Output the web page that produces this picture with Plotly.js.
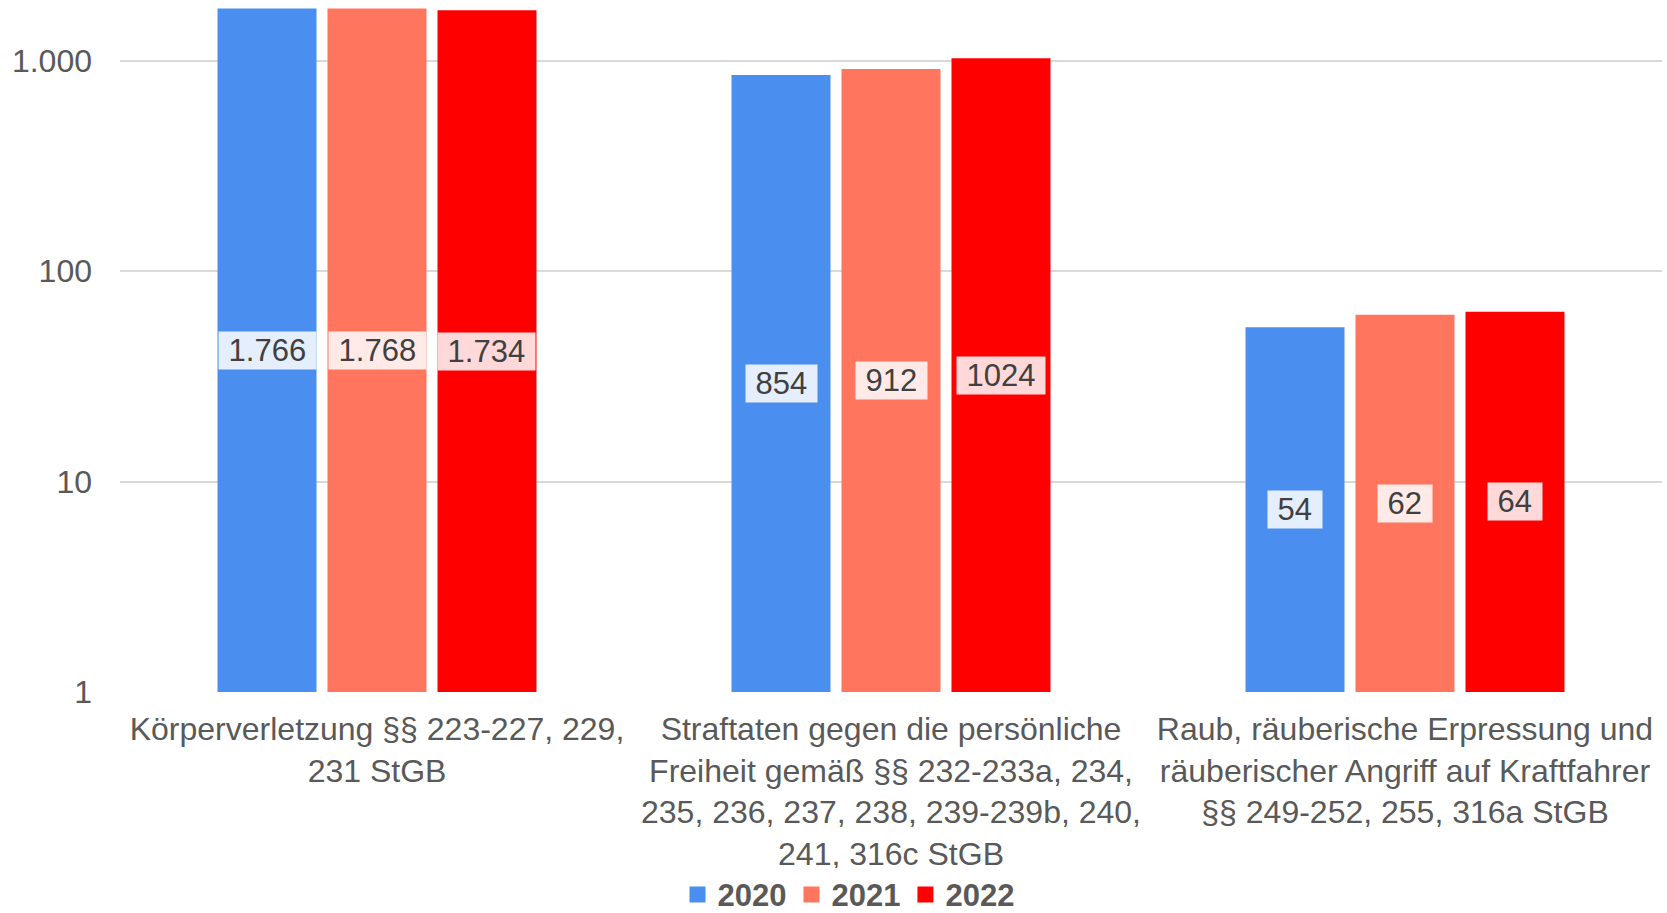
<!DOCTYPE html>
<html><head><meta charset="utf-8">
<script src="https://cdn.plot.ly/plotly-3.0.1.min.js"></script>
<style>html,body{margin:0;padding:0;background:#fff}</style>
</head><body><div id="chart" style="width:1667px;height:913px"></div>
<script>
const categories = [
  "Körperverletzung §§ 223-227, 229,<br>231 StGB",
  "Straftaten gegen die persönliche<br>Freiheit gemäß §§ 232-233a, 234,<br>235, 236, 237, 238, 239-239b, 240,<br>241, 316c StGB",
  "Raub, räuberische Erpressung und<br>räuberischer Angriff auf Kraftfahrer<br>§§ 249-252, 255, 316a StGB"
];
const seriesNames = ["2020", "2021", "2022"];
const values2020 = [1766, 854, 54];
const values2021 = [1768, 912, 62];
const values2022 = [1734, 1024, 64];
const labels2020 = ["1.766", "854", "54"];
const labels2021 = ["1.768", "912", "62"];
const labels2022 = ["1.734", "1024", "64"];
const yTickVals = [1, 10, 100, 1000];
const yTickText = ["1", "10", "100", "1.000"];

const colors = ["#4A8EF0", "#FF755E", "#FF0000"];
const labelBg = ["#E4EEFD", "#FFEAE7", "#FFD9D9"];
const allValues = [values2020, values2021, values2022];
const allLabels = [labels2020, labels2021, labels2022];

const W = 1667, H = 913;
const margin = {l: 120, r: 5, t: 5, b: 221};
const bargap = 0.358, bargroupgap = 0.1;
const plotW = W - margin.l - margin.r;
const slot = plotW / categories.length * (1 - bargap) / seriesNames.length;
const FONT = "Liberation Sans, Arial, sans-serif";

const traces = seriesNames.map((name, i) => ({
  type: "bar",
  name: name,
  x: categories,
  y: allValues[i],
  marker: {color: colors[i], line: {width: 0}},
  showlegend: false,
  legendgroup: name,
  hoverinfo: "x+y"
}));
// legend entries (larger square swatches), no data marks
seriesNames.forEach((name, i) => {
  traces.push({
    type: "scatter", mode: "markers",
    name: name, legendgroup: name,
    x: [null], y: [null],
    marker: {symbol: "square", size: 18, color: colors[i]},
    hoverinfo: "skip"
  });
});

const annotations = [];
seriesNames.forEach((name, i) => {
  categories.forEach((cat, j) => {
    annotations.push({
      x: cat, xref: "x",
      y: Math.log10(allValues[i][j]) / 2, yref: "y",
      xshift: (i - 1) * slot,
      text: "\u00a0" + allLabels[i][j] + "\u00a0",
      showarrow: false,
      bgcolor: labelBg[i],
      borderpad: 1,
      font: {family: FONT, size: 31, color: "#404040"}
    });
  });
});

const layout = {
  width: W, height: H,
  margin: margin,
  paper_bgcolor: "#fff", plot_bgcolor: "#fff",
  barmode: "group", bargap: bargap, bargroupgap: bargroupgap,
  font: {family: FONT, size: 32, color: "#595959"},
  xaxis: {
    type: "category", automargin: false,
    showgrid: false, showline: false, zeroline: false,
    ticks: "", ticklabelstandoff: 15,
    tickfont: {size: 32, color: "#595959"}
  },
  yaxis: {
    type: "log", automargin: false,
    range: [0, (H - margin.t - margin.b) / 210.5],
    tickvals: yTickVals, ticktext: yTickText,
    showgrid: true, gridcolor: "#D9D9D9", gridwidth: 2,
    zeroline: false, showline: false, ticks: "",
    ticklabelstandoff: 27,
    tickfont: {size: 32, color: "#595959"}
  },
  showlegend: true,
  legend: {
    orientation: "h",
    xref: "container", yref: "container",
    x: 0.509, xanchor: "center",
    y: 0.02, yanchor: "middle",
    font: {size: 31, color: "#595959", family: FONT, weight: "bold"},
    itemwidth: 30, tracegroupgap: 0, itemsizing: "trace"
  },
  annotations: annotations
};

Plotly.newPlot("chart", traces, layout, {displayModeBar: false, staticPlot: true});
</script></body></html>
